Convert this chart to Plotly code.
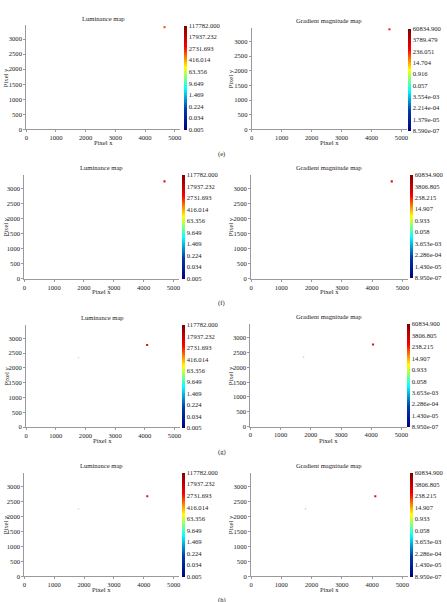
import numpy as np
import plotly.graph_objects as go

W, H = 447, 602

# ---------------- data ----------------
panel_letters = ["(e)", "(f)", "(g)", "(h)"]

lum_cbar_labels = ["117782.000", "17937.232", "2731.693", "416.014", "63.356",
                   "9.649", "1.469", "0.224", "0.034", "0.005"]
grad_cbar_labels_r1 = ["60834.900", "3789.479", "236.051", "14.704", "0.916",
                       "0.057", "3.554e-03", "2.214e-04", "1.379e-05", "8.590e-07"]
grad_cbar_labels_r234 = ["60834.900", "3806.805", "238.215", "14.907", "0.933",
                         "0.058", "3.653e-03", "2.286e-04", "1.430e-05", "8.950e-07"]

x_ticks = [0, 1000, 2000, 3000, 4000, 5000]
y_ticks = [0, 500, 1000, 1500, 2000, 2500, 3000]
img_w, img_h = 5184, 3456

# non-empty pixels (x, y, value) per panel
lum_r1_x, lum_r1_y, lum_r1_v = [4657], [3397], [1500.0]
grad_r1_x, grad_r1_y, grad_r1_v = [4600], [3420], [3000.0]
lum_r2_x, lum_r2_y, lum_r2_v = [4700], [3232], [9000.0]
grad_r2_x, grad_r2_y, grad_r2_v = [4650], [3232], [3000.0]
lum_r3_x, lum_r3_y, lum_r3_v = [4080, 1765], [2775, 2350], [9000.0, 600.0]
grad_r3_x, grad_r3_y, grad_r3_v = [4060, 1760], [2775, 2350], [3000.0, 80.0]
lum_r4_x, lum_r4_y, lum_r4_v = [4115, 1815], [2669, 2252], [9000.0, 600.0]
grad_r4_x, grad_r4_y, grad_r4_v = [4106, 1801], [2669, 2252], [3000.0, 80.0]

# ---------------- layout boxes (pixels) ----------------
# x0, x1, ytop, ybot, cbar_x0, cbar_top, cbar_bot, title_y, xlabel_y, ylabel_x
boxes = [
    (24.5, 179.8, 25.5, 130.0, 183.3, 25.7, 130.0, 19.0, 143.4, 3.8),
    (252.0, 408.6, 28.3, 130.0, 409.3, 29.0, 130.7, 20.7, 143.4, 230.8),
    (22.5, 178.5, 175.5, 280.0, 182.0, 175.7, 279.3, 168.3, 293.4, 3.8),
    (251.3, 409.6, 175.5, 280.0, 411.3, 175.7, 279.0, 168.3, 293.4, 230.8),
    (24.3, 179.5, 326.5, 429.3, 182.0, 326.7, 429.3, 319.3, 442.4, 3.8),
    (250.7, 408.6, 326.0, 428.7, 409.0, 325.7, 429.0, 318.3, 442.4, 230.8),
    (22.5, 178.8, 475.0, 579.3, 182.0, 475.0, 579.3, 467.7, 592.6, 3.8),
    (251.3, 409.6, 475.0, 579.3, 411.3, 475.0, 579.3, 467.7, 592.6, 230.8),
]
letter_pos = [(221.5, 155.0), (221.5, 304.5), (221.5, 454.5), (221.5, 603.5)]

panels = [
    ("Luminance map", lum_r1_x, lum_r1_y, lum_r1_v, lum_cbar_labels),
    ("Gradient magnitude map", grad_r1_x, grad_r1_y, grad_r1_v, grad_cbar_labels_r1),
    ("Luminance map", lum_r2_x, lum_r2_y, lum_r2_v, lum_cbar_labels),
    ("Gradient magnitude map", grad_r2_x, grad_r2_y, grad_r2_v, grad_cbar_labels_r234),
    ("Luminance map", lum_r3_x, lum_r3_y, lum_r3_v, lum_cbar_labels),
    ("Gradient magnitude map", grad_r3_x, grad_r3_y, grad_r3_v, grad_cbar_labels_r234),
    ("Luminance map", lum_r4_x, lum_r4_y, lum_r4_v, lum_cbar_labels),
    ("Gradient magnitude map", grad_r4_x, grad_r4_y, grad_r4_v, grad_cbar_labels_r234),
]

FONT = "Liberation Serif, Times New Roman, serif"
FS = 6.6
TXT = "#222222"
AX = "#9a9a9a"


def fx(px):
    return px / W


def fy(py):
    return 1 - py / H


fig = go.Figure()
annotations = []
layout_axes = {}

for i, (title, xs, ys, vs, cb_labels) in enumerate(panels):
    x0, x1, yt, yb, cbx, cbt, cbb, ty, xly, ylx = boxes[i]
    n = i + 1
    xa = "x" if n == 1 else f"x{n}"
    ya = "y" if n == 1 else f"y{n}"
    cb_vals = [float(np.log10(float(s))) for s in cb_labels]
    cmax, cmin = cb_vals[0], cb_vals[-1]
    sizes = [2.1 if j == 0 else 1.3 for j in range(len(xs))]
    fig.add_trace(go.Scatter(
        x=xs, y=ys, mode="markers", xaxis=xa, yaxis=ya,
        marker=dict(
            symbol="square", size=sizes, line=dict(width=0),
            opacity=[0.9 if j == 0 else 0.45 for j in range(len(xs))],
            color=np.log10(np.array(vs)), colorscale="Jet", cmin=cmin, cmax=cmax,
            showscale=True,
            colorbar=dict(
                x=fx(cbx), xanchor="left", xref="paper",
                y=fy(cbt), yanchor="top", yref="paper",
                len=cbb - cbt, lenmode="pixels",
                thickness=2.5, thicknessmode="pixels",
                xpad=0, ypad=0, outlinewidth=0,
                tickmode="array", tickvals=cb_vals, ticktext=cb_labels,
                ticks="", ticklen=0,
                tickfont=dict(family=FONT, size=FS, color=TXT),
            ),
        ),
        showlegend=False, hoverinfo="skip",
    ))
    axcommon = dict(showgrid=False, zeroline=False, showline=True, linecolor=AX,
                    linewidth=1, ticks="outside", ticklen=2, tickwidth=1,
                    tickcolor=AX, tickfont=dict(family=FONT, size=FS, color=TXT),
                    tickmode="array", fixedrange=True)
    layout_axes["xaxis" if n == 1 else f"xaxis{n}"] = dict(
        axcommon, domain=[fx(x0), fx(x1)], range=[0, img_w], tickvals=x_ticks,
        anchor=ya)
    layout_axes["yaxis" if n == 1 else f"yaxis{n}"] = dict(
        axcommon, domain=[fy(yb), fy(yt)], range=[0, img_h], tickvals=y_ticks,
        anchor=xa)
    annotations.append(dict(text=title, x=fx((x0 + x1) / 2), y=fy(ty),
                            xref="paper", yref="paper", showarrow=False,
                            xanchor="center", yanchor="middle",
                            font=dict(family=FONT, size=FS, color=TXT)))
    annotations.append(dict(text="Pixel x", x=fx((x0 + x1) / 2), y=fy(xly),
                            xref="paper", yref="paper", showarrow=False,
                            xanchor="center", yanchor="middle",
                            font=dict(family=FONT, size=FS, color=TXT)))
    annotations.append(dict(text="Pixel y", x=fx(ylx), y=fy((yt + yb) / 2),
                            xref="paper", yref="paper", showarrow=False,
                            xanchor="center", yanchor="middle", textangle=-90,
                            font=dict(family=FONT, size=FS, color=TXT)))

for lbl, (lx, ly) in zip(panel_letters, letter_pos):
    annotations.append(dict(text=lbl, x=fx(lx), y=fy(ly), xref="paper", yref="paper",
                            showarrow=False, xanchor="center", yanchor="middle",
                            font=dict(family=FONT, size=FS, color=TXT)))

fig.update_layout(
    width=W, height=H, margin=dict(l=0, r=0, t=0, b=0),
    paper_bgcolor="white", plot_bgcolor="white",
    annotations=annotations, **layout_axes,
)

fig.write_html("out.html", config={"displayModeBar": False})
